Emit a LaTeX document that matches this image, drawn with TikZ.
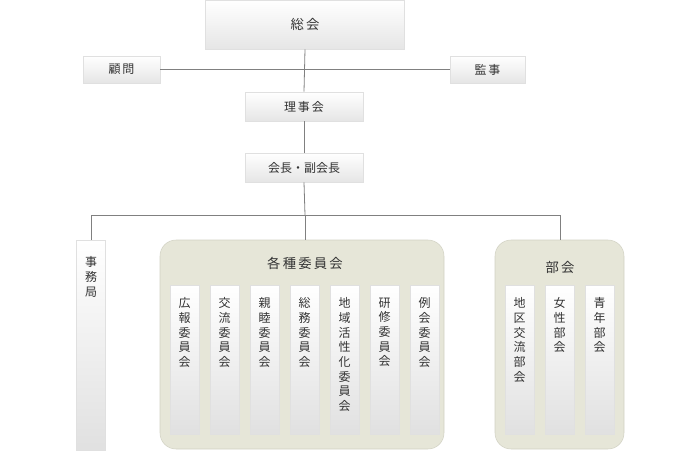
\documentclass[tikz,border=0pt]{standalone}
\usepackage{fontspec}
\setmainfont{Noto Sans CJK JP}
\usetikzlibrary{positioning}
\colorlet{boxline}{black!12}
\colorlet{linkline}{black!50}
\definecolor{groupfill}{HTML}{E6E6D8}
\definecolor{groupline}{HTML}{D2D2C4}
\definecolor{txt}{HTML}{333333}

\tikzset{
  office/.style={draw=boxline, top color=white, bottom color=black!10, text=txt, font=\small},
  tallbox/.style={draw=boxline, top color=white, bottom color=black!12, text=txt, font=\small,
    align=center, anchor=north west, minimum width=29*0.75pt, inner sep=0pt, text depth=0pt},
  group/.style={draw=groupline, fill=groupfill, rounded corners=12pt},
  link/.style={draw=linkline, line width=0.6pt}
}

\begin{document}
\begin{tikzpicture}[x=0.75pt,y=-0.75pt]
  \useasboundingbox (0,0) rectangle (700,450);

  % top
  \node[office, minimum width=199*0.75pt, minimum height=49*0.75pt, font=\normalsize] (sokai) at (305,24.5) {総\,会};
  \node[office, minimum width=77*0.75pt, minimum height=27*0.75pt] (komon) at (121.5,69.5) {顧\,問};
  \node[office, minimum width=75*0.75pt, minimum height=27*0.75pt] (kanji) at (487.5,69.5) {監\,事};
  \node[office, minimum width=118*0.75pt, minimum height=29*0.75pt] (rijikai) at (304,106.5) {理\,事\,会};
  \node[office, minimum width=118*0.75pt, minimum height=29*0.75pt] (kaicho) at (304,167.5) {会長・副会長};

  \coordinate (split) at (305,215);
  \coordinate (left) at (91,215);
  \coordinate (right) at (560,215);

  % groups
  \draw[group] (160,240) rectangle (444,449);
  \node[text=txt] (iinkai) at (305,263) {各\,種\,委\,員\,会};
  \draw[group] (495,240) rectangle (624,449);
  \node[text=txt] (bukai) at (560,267) {部\,会};
  \coordinate (iintop) at (305,240);
  \coordinate (butop) at (560,240);

  % jimukyoku
  \node[tallbox, minimum height=210*0.75pt, anchor=north] (jimu) at (91,240) {};
  \node[text=txt, font=\small, align=center, anchor=north] at (91,252) {事\\務\\局};

  % committees
  \foreach \n/\t [count=\i from 0] in {koho/広\\報\\委\\員\\会, koryu/交\\流\\委\\員\\会,
      shinboku/親\\睦\\委\\員\\会, somu/総\\務\\委\\員\\会,
      chiiki/地\\域\\活\\性\\化\\委\\員\\会, kenshu/研\\修\\委\\員\\会, reikai/例\\会\\委\\員\\会}{
    \node[tallbox, minimum height=149*0.75pt] (\n) at (170+40*\i,285) {};
    \node[text=txt, font=\small, align=center, anchor=north] at (184.5+40*\i,293) {\t};
  }
  \foreach \n/\t [count=\i from 0] in {chiku/地\\区\\交\\流\\部\\会, josei/女\\性\\部\\会, seinen/青\\年\\部\\会}{
    \node[tallbox, minimum height=149*0.75pt] (\n) at (505+40*\i,285) {};
    \node[text=txt, font=\small, align=center, anchor=north] at (519.5+40*\i,293) {\t};
  }

  % links
  \draw[link] (sokai.south) -- (rijikai.north);
  \draw[link] (komon.east) -- (kanji.west);
  \draw[link] (rijikai.south) -- (kaicho.north);
  \draw[link] (kaicho.south) -- (split);
  \draw[link] (left) -- (right);
  \draw[link] (left) -- (jimu.north);
  \draw[link] (split) -- (iintop);
  \draw[link] (right) -- (butop);
\end{tikzpicture}
\end{document}
